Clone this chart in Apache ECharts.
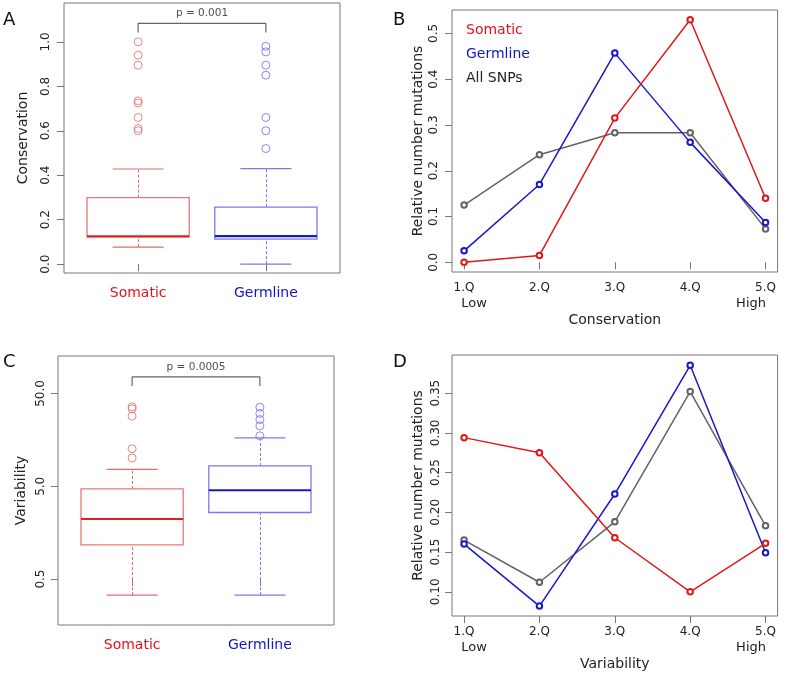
<!DOCTYPE html>
<html><head><meta charset="utf-8">
<script src="https://cdn.jsdelivr.net/npm/echarts@6/dist/echarts.min.js"></script>
<style>html,body{margin:0;padding:0;background:#fff}#c{width:798px;height:676px}</style>
</head><body><div id="c"></div>
<script>
// ---------- data ----------
const groups = ['Somatic', 'Germline'];
// box stats: [min, Q1, median, Q3, max]
const consSomaticBox = [0.076, 0.124, 0.125, 0.299, 0.428];
const consGermlineBox = [0.0, 0.112, 0.126, 0.256, 0.43];
const consSomaticOut = [1.0, 0.94, 0.895, 0.735, 0.725, 0.66, 0.61, 0.60];
const consGermlineOut = [0.98, 0.955, 0.895, 0.85, 0.66, 0.60, 0.52];
const varSomaticBox = [0.336, 1.17, 2.22, 4.68, 7.62];
const varGermlineBox = [0.336, 2.61, 4.53, 8.28, 16.6];
const varSomaticOut = [35.9, 34.2, 28.5, 12.7, 10.1];
const varGermlineOut = [35.6, 30.5, 26.2, 22.4, 17.5];
const quantiles = ['1.Q', '2.Q', '3.Q', '4.Q', '5.Q'];
const quantileEnds = ['Low', 'High'];
const lineNames = ['Somatic', 'Germline', 'All SNPs'];
const consSomatic = [0.0, 0.015, 0.315, 0.53, 0.14];
const consGermline = [0.025, 0.17, 0.457, 0.262, 0.087];
const consAll = [0.125, 0.235, 0.283, 0.283, 0.073];
const varSomatic = [0.294, 0.275, 0.168, 0.100, 0.161];
const varGermline = [0.160, 0.082, 0.223, 0.385, 0.149];
const varAll = [0.165, 0.112, 0.188, 0.352, 0.183];
const ticksA = [0, 0.2, 0.4, 0.6, 0.8, 1.0];
const ticksB = [0, 0.1, 0.2, 0.3, 0.4, 0.5];
const ticksC = [0.5, 5, 50];
const ticksD = [0.10, 0.15, 0.20, 0.25, 0.30, 0.35];
const pValues = ['p = 0.001', 'p = 0.0005'];
const panelLetters = ['A', 'B', 'C', 'D'];

// ---------- styles ----------
const FONT = 'DejaVu Sans';
const TXT = '#222';
const AX = '#777';
const boxStyle = [
  {border: '#e87878', median: '#dd2020', whisker: '#e06a6a', out: '#e06a6a'},
  {border: '#7a7af0', median: '#1a1ac4', whisker: '#7a7af0', out: '#6c6cf0'}
];
const catColors = ['#e8101c', '#1414c8'];
const lineColors = ['#e01818', '#1818c8', '#636363'];
const legendColors = ['#e8101c', '#1414c8', '#222'];

const C_BASE = 0.5, C_MIN = 0.16, C_MAX = 126.8;
const toLab = v => Math.log10(v / C_BASE);

function boxRender(params, api) {
  const x = api.value(0);
  const v = [1, 2, 3, 4, 5].map(i => api.value(i));
  const y = v.map(val => api.coord([x, val])[1]);
  const cx = Math.round(api.coord([x, v[2]])[0]) + 0.5;
  const l = api.coord([x - 0.4, v[2]])[0], r = api.coord([x + 0.4, v[2]])[0];
  const cl = api.coord([x - 0.2, v[2]])[0], cr = api.coord([x + 0.2, v[2]])[0];
  const s = boxStyle[params.dataIndex];
  const dash = {stroke: s.whisker, lineWidth: 1, lineDash: [3, 2], fill: null};
  const solid = {stroke: s.whisker, lineWidth: 1.2};
  return {type: 'group', children: [
    {type: 'polyline', shape: {points: [[cx, y[0]], [cx, y[1]]]}, style: dash},
    {type: 'polyline', shape: {points: [[cx, y[3]], [cx, y[4]]]}, style: dash},
    {type: 'line', shape: {x1: cl, y1: y[0], x2: cr, y2: y[0]}, style: solid},
    {type: 'line', shape: {x1: cl, y1: y[4], x2: cr, y2: y[4]}, style: solid},
    {type: 'rect', shape: {x: l, y: y[3], width: r - l, height: y[1] - y[3]},
      style: {fill: 'none', stroke: s.border, lineWidth: 1.3}},
    {type: 'line', shape: {x1: l, y1: y[2], x2: r, y2: y[2]}, style: {stroke: s.median, lineWidth: 2.2}}
  ]};
}

const grids = [
  {left: 64, top: 3, width: 276, height: 270},
  {left: 452, top: 10, width: 342, height: 262},
  {left: 58, top: 356, width: 276, height: 269},
  {left: 452, top: 355, width: 342, height: 261}
].map(g => Object.assign(g, {show: true, borderColor: AX, borderWidth: 1, backgroundColor: 'transparent'}));

function boxXAxis(gi) {
  return {
    type: 'value', gridIndex: gi, position: 'bottom', min: 0.42, max: 2.58,
    axisLine: {show: false}, splitLine: {show: false},
    axisTick: {show: true, customValues: [1, 2], length: 7, lineStyle: {color: AX}},
    axisLabel: {
      customValues: [1, 2], margin: 13, fontFamily: FONT, fontSize: 14,
      formatter: v => '{c' + (v - 1) + '|' + groups[v - 1] + '}',
      rich: {c0: {color: catColors[0], fontSize: 14, fontFamily: FONT}, c1: {color: catColors[1], fontSize: 14, fontFamily: FONT}}
    }
  };
}
function qXAxis(gi, title, gap) {
  return {
    type: 'value', gridIndex: gi, position: 'bottom', min: 0.84, max: 5.16,
    axisLine: {show: false}, splitLine: {show: false},
    axisTick: {show: true, customValues: [1, 2, 3, 4, 5], length: 7, lineStyle: {color: AX}},
    axisLabel: {
      customValues: [1, 2, 3, 4, 5], margin: 8, fontFamily: FONT, fontSize: 12, color: TXT, lineHeight: 16,
      formatter: v => {
        const i = Math.round(v) - 1;
        let s = quantiles[i];
        if (i === 0) s += '\n{lo|' + quantileEnds[0] + '}';
        if (i === quantiles.length - 1) s += '\n{hi|' + quantileEnds[1] + '}';
        return s;
      },
      rich: {
        lo: {fontSize: 13, fontFamily: FONT, color: TXT, lineHeight: 16, padding: [0, 0, 0, 20]},
        hi: {fontSize: 13, fontFamily: FONT, color: TXT, lineHeight: 16, padding: [0, 29, 0, 0]}
      }
    },
    name: title, nameLocation: 'middle', nameGap: gap,
    nameTextStyle: {fontFamily: FONT, fontSize: 14, color: TXT}
  };
}
function yAxisDef(gi, min, max, ticks, fmt, title, gap, margin) {
  return {
    type: 'value', gridIndex: gi, position: 'left', offset: 0, min: min, max: max,
    axisLine: {show: false}, splitLine: {show: false},
    axisTick: {show: true, customValues: ticks, length: 7, lineStyle: {color: AX}},
    axisLabel: {customValues: ticks, formatter: fmt, rotate: 90, margin: margin,
      fontFamily: FONT, fontSize: 12, color: TXT},
    name: title, nameLocation: 'middle', nameGap: gap,
    nameTextStyle: {fontFamily: FONT, fontSize: 14, color: TXT}
  };
}

const xAxes = [boxXAxis(0), qXAxis(1, 'Conservation', 41), boxXAxis(2), qXAxis(3, 'Variability', 40)];
const yAxes = [
  yAxisDef(0, -0.04, 1.175, ticksA, v => v.toFixed(1), 'Conservation', 34, 12),
  yAxisDef(1, -0.0212, 0.5512, ticksB, v => v.toFixed(1), 'Relative number mutations', 27, 12),
  {type: 'log', logBase: 10, gridIndex: 2, position: 'left', min: C_MIN, max: C_MAX, show: false,
    axisLine: {show: false}, axisTick: {show: false}, axisLabel: {show: false}, splitLine: {show: false}},
  yAxisDef(2, toLab(C_MIN), toLab(C_MAX), ticksC.map(toLab), v => (C_BASE * Math.pow(10, v)).toFixed(1), 'Variability', 30, 11),
  yAxisDef(3, 0.0695, 0.398, ticksD, v => v.toFixed(2), 'Relative number mutations', 27, 10)
];

const series = [];
function addBoxPanel(xi, yi, boxes, outs, pText, bracket) {
  series.push({type: 'custom', xAxisIndex: xi, yAxisIndex: yi, silent: true, renderItem: boxRender,
    clip: false, data: boxes.map((b, i) => [i + 1].concat(b)), z: 3});
  outs.forEach((o, i) => series.push({type: 'scatter', xAxisIndex: xi, yAxisIndex: yi, silent: true,
    symbol: 'circle', symbolSize: 8,
    itemStyle: {color: 'rgba(0,0,0,0)', borderColor: boxStyle[i].out, borderWidth: 1},
    data: o.map(v => [i + 1, v]), z: 4}));
  series.push({type: 'line', xAxisIndex: xi, yAxisIndex: yi, silent: true, symbol: 'none',
    lineStyle: {color: '#666', width: 1.2},
    data: [[1, bracket[0]], [1, bracket[1]], [2, bracket[1]], [2, bracket[0]]]});
  series.push({type: 'scatter', xAxisIndex: xi, yAxisIndex: yi, silent: true, symbolSize: 0,
    label: {show: true, position: 'inside', formatter: pText, fontFamily: FONT, fontSize: 10.5, color: TXT},
    data: [[1.5, bracket[2]]]});
}
addBoxPanel(0, 0, [consSomaticBox, consGermlineBox], [consSomaticOut, consGermlineOut], pValues[0], [1.042, 1.083, 1.127]);
addBoxPanel(2, 2, [varSomaticBox, varGermlineBox], [varSomaticOut, varGermlineOut], pValues[1], [60.4, 75.4, 96.6]);

function addLines(xi, yi, sets) {
  sets.forEach((vals, i) => series.push({
    type: 'line', name: lineNames[i], xAxisIndex: xi, yAxisIndex: yi, silent: true,
    symbol: 'emptyCircle', symbolSize: 5.5, showAllSymbol: true,
    lineStyle: {color: lineColors[i], width: 1.5},
    itemStyle: {color: lineColors[i], borderColor: lineColors[i], borderWidth: 1.5},
    data: vals.map((v, k) => [k + 1, v]), z: 3 + (2 - i)
  }));
}
addLines(1, 1, [consSomatic, consGermline, consAll]);
addLines(3, 4, [varSomatic, varGermline, varAll]);

const letterPos = [[3, 22], [393, 22], [3, 364], [393, 364]];
const graphic = panelLetters.map((t, i) => ({
  type: 'text', left: letterPos[i][0], top: letterPos[i][1] - 11,
  style: {text: t, fontFamily: FONT, fontSize: 18, fill: '#111'}
}));

const chart = echarts.init(document.getElementById('c'), null, {renderer: 'canvas'});
chart.setOption({
  animation: false,
  backgroundColor: '#fff',
  textStyle: {fontFamily: FONT},
  grid: grids,
  xAxis: xAxes,
  yAxis: yAxes,
  legend: {
    left: 455, top: 18, orient: 'vertical', itemWidth: 0, itemHeight: 0, itemGap: 10,
    icon: 'rect', selectedMode: false,
    textStyle: {fontFamily: FONT, fontSize: 14},
    data: lineNames.map((n, i) => ({name: n, textStyle: {color: legendColors[i], fontSize: 14, fontFamily: FONT}}))
  },
  graphic: graphic,
  series: series
});
</script>
</body></html>
